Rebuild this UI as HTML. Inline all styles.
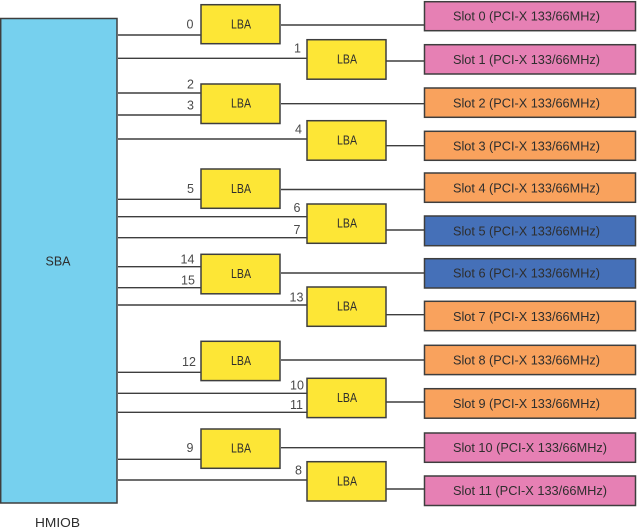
<!DOCTYPE html>
<html>
<head>
<meta charset="utf-8">
<style>
html,body{margin:0;padding:0;background:#fff;width:637px;height:532px;overflow:hidden}
svg{display:block;font-family:"Liberation Sans",sans-serif}
text{fill:#2e2e2e}
.n{fill:#4a4a4a;font-size:12.5px;text-anchor:middle}
.l{font-size:13px;text-anchor:middle}
.s{font-size:12.5px}
rect{stroke:#3e3e3e;stroke-width:1.5}
line{stroke:#3e3e3e;stroke-width:1.4}
</style>
</head>
<body>
<svg width="637" height="532" viewBox="0 0 637 532" xmlns="http://www.w3.org/2000/svg">
<rect x="0.7" y="18.5" width="116.3" height="484.5" fill="#76d0ee"/>
<text class="l" x="58" y="265.500" textLength="25" lengthAdjust="spacingAndGlyphs">SBA</text>
<text x="35" y="527" style="font-size:12.5px" textLength="45" lengthAdjust="spacingAndGlyphs">HMIOB</text>

<g>
<line x1="118" x2="201" y1="35" y2="35"/>
<line x1="118" x2="307" y1="58.300" y2="58.300"/>
<line x1="118" x2="201" y1="93" y2="93"/>
<line x1="118" x2="201" y1="115" y2="115"/>
<line x1="118" x2="307" y1="139" y2="139"/>
<line x1="118" x2="201" y1="199.300" y2="199.300"/>
<line x1="118" x2="307" y1="216.700" y2="216.700"/>
<line x1="118" x2="307" y1="237.700" y2="237.700"/>
<line x1="118" x2="201" y1="266.700" y2="266.700"/>
<line x1="118" x2="201" y1="287.700" y2="287.700"/>
<line x1="118" x2="307" y1="305" y2="305"/>
<line x1="118" x2="201" y1="372.300" y2="372.300"/>
<line x1="118" x2="307" y1="393.300" y2="393.300"/>
<line x1="118" x2="307" y1="412.300" y2="412.300"/>
<line x1="118" x2="201" y1="459.300" y2="459.300"/>
<line x1="118" x2="307" y1="480" y2="480"/>

<line x1="281" x2="424" y1="25" y2="25"/>
<line x1="386" x2="424" y1="61" y2="61"/>
<line x1="281" x2="424" y1="103.700" y2="103.700"/>
<line x1="386" x2="424" y1="145.700" y2="145.700"/>
<line x1="281" x2="424" y1="189.500" y2="189.500"/>
<line x1="386" x2="424" y1="230" y2="230"/>
<line x1="281" x2="424" y1="273" y2="273"/>
<line x1="386" x2="424" y1="314.700" y2="314.700"/>
<line x1="281" x2="424" y1="360" y2="360"/>
<line x1="386" x2="424" y1="402" y2="402"/>
<line x1="281" x2="424" y1="447.700" y2="447.700"/>
<line x1="386" x2="424" y1="489" y2="489"/>
</g>

<g fill="#fde636">
<rect x="201" y="4.700" width="79" height="39"/>
<rect x="307" y="39.700" width="79" height="39.500"/>
<rect x="201" y="84" width="79" height="39.500"/>
<rect x="307" y="120.700" width="79" height="39.500"/>
<rect x="201" y="169" width="79" height="39.300"/>
<rect x="307" y="204" width="79" height="39.300"/>
<rect x="201" y="254.300" width="79" height="39.500"/>
<rect x="307" y="287" width="79" height="39.300"/>
<rect x="201" y="341.300" width="79" height="39.300"/>
<rect x="307" y="378.300" width="79" height="39.300"/>
<rect x="201" y="429" width="79" height="39.300"/>
<rect x="307" y="461.700" width="79" height="39.300"/>
</g>

<g>
<text class="l" x="241" y="28.500" textLength="20" lengthAdjust="spacingAndGlyphs">LBA</text>
<text class="l" x="347" y="63.500" textLength="20" lengthAdjust="spacingAndGlyphs">LBA</text>
<text class="l" x="241" y="107.500" textLength="20" lengthAdjust="spacingAndGlyphs">LBA</text>
<text class="l" x="347" y="144.500" textLength="20" lengthAdjust="spacingAndGlyphs">LBA</text>
<text class="l" x="241" y="193" textLength="20" lengthAdjust="spacingAndGlyphs">LBA</text>
<text class="l" x="347" y="227.500" textLength="20" lengthAdjust="spacingAndGlyphs">LBA</text>
<text class="l" x="241" y="278" textLength="20" lengthAdjust="spacingAndGlyphs">LBA</text>
<text class="l" x="347" y="310.500" textLength="20" lengthAdjust="spacingAndGlyphs">LBA</text>
<text class="l" x="241" y="365" textLength="20" lengthAdjust="spacingAndGlyphs">LBA</text>
<text class="l" x="347" y="402" textLength="20" lengthAdjust="spacingAndGlyphs">LBA</text>
<text class="l" x="241" y="452.500" textLength="20" lengthAdjust="spacingAndGlyphs">LBA</text>
<text class="l" x="347" y="485.500" textLength="20" lengthAdjust="spacingAndGlyphs">LBA</text>
</g>

<g>
<text class="n" x="190" y="28.500">0</text>
<text class="n" x="297.500" y="52.500">1</text>
<text class="n" x="190.500" y="88.500">2</text>
<text class="n" x="190.500" y="109.500">3</text>
<text class="n" x="298.500" y="133.500">4</text>
<text class="n" x="190.500" y="193">5</text>
<text class="n" x="297" y="212">6</text>
<text class="n" x="297" y="234">7</text>
<text class="n" x="187.500" y="263.500">14</text>
<text class="n" x="188" y="284.500">15</text>
<text class="n" x="296.500" y="301.500">13</text>
<text class="n" x="189" y="366">12</text>
<text class="n" x="297" y="389.500">10</text>
<text class="n" x="296.500" y="409">11</text>
<text class="n" x="190" y="452">9</text>
<text class="n" x="298.500" y="474.500">8</text>
</g>

<g>
<rect x="424.500" y="1.700" width="211" height="29" fill="#e680b4"/>
<rect x="424.500" y="44.700" width="211" height="29.300" fill="#e680b4"/>
<rect x="424.500" y="88" width="211" height="29.300" fill="#f9a25d"/>
<rect x="424.500" y="131.300" width="211" height="29" fill="#f9a25d"/>
<rect x="424.500" y="173" width="211" height="29.300" fill="#f9a25d"/>
<rect x="424.500" y="216" width="211" height="29.700" fill="#4570b8"/>
<rect x="424.500" y="258.700" width="211" height="29.300" fill="#4570b8"/>
<rect x="424.500" y="301.300" width="211" height="29.400" fill="#f9a25d"/>
<rect x="424.500" y="345.300" width="211" height="29.300" fill="#f9a25d"/>
<rect x="424.500" y="388.700" width="211" height="29.500" fill="#f9a25d"/>
<rect x="424.500" y="433" width="211" height="29.300" fill="#e680b4"/>
<rect x="424.500" y="476" width="211" height="29.500" fill="#e680b4"/>
</g>

<g>
<text class="s" x="453" y="20.500" textLength="147" lengthAdjust="spacingAndGlyphs">Slot 0 (PCI-X 133/66MHz)</text>
<text class="s" x="453" y="64" textLength="147" lengthAdjust="spacingAndGlyphs">Slot 1 (PCI-X 133/66MHz)</text>
<text class="s" x="453" y="107.500" textLength="147" lengthAdjust="spacingAndGlyphs">Slot 2 (PCI-X 133/66MHz)</text>
<text class="s" x="453" y="150.500" textLength="147" lengthAdjust="spacingAndGlyphs">Slot 3 (PCI-X 133/66MHz)</text>
<text class="s" x="453" y="192.500" textLength="147" lengthAdjust="spacingAndGlyphs">Slot 4 (PCI-X 133/66MHz)</text>
<text class="s" x="453" y="235.500" textLength="147" lengthAdjust="spacingAndGlyphs">Slot 5 (PCI-X 133/66MHz)</text>
<text class="s" x="453" y="277.500" textLength="147" lengthAdjust="spacingAndGlyphs">Slot 6 (PCI-X 133/66MHz)</text>
<text class="s" x="453" y="321" textLength="147" lengthAdjust="spacingAndGlyphs">Slot 7 (PCI-X 133/66MHz)</text>
<text class="s" x="453" y="364.500" textLength="147" lengthAdjust="spacingAndGlyphs">Slot 8 (PCI-X 133/66MHz)</text>
<text class="s" x="453" y="408" textLength="147" lengthAdjust="spacingAndGlyphs">Slot 9 (PCI-X 133/66MHz)</text>
<text class="s" x="453" y="452" textLength="154" lengthAdjust="spacingAndGlyphs">Slot 10 (PCI-X 133/66MHz)</text>
<text class="s" x="453" y="495" textLength="154" lengthAdjust="spacingAndGlyphs">Slot 11 (PCI-X 133/66MHz)</text>
</g>
</svg>
</body>
</html>
